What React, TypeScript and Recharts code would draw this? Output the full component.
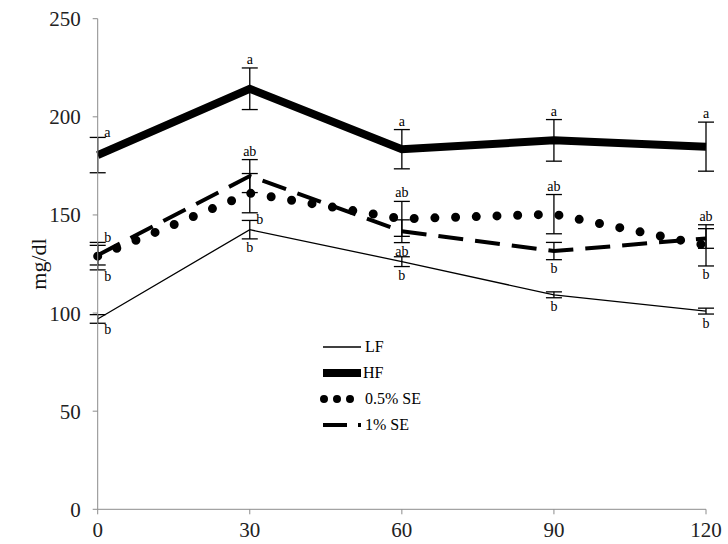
import React from "react";
import { ComposedChart, Line, XAxis, YAxis, ErrorBar, LabelList, Legend } from "recharts";

// minutes after load
const times = [0, 30, 60, 90, 120];

const lfMean = [97, 142.5, 126.2, 109.3, 101];
const lfErr = [2.2, 4.7, 2.5, 1.5, 1.5];
const hfMean = [180.5, 214.3, 183.5, 188, 184.8];
const hfErr = [9, 10.6, 10, 10.6, 12.5];
const se05Mean = [129, 161.1, 148, 150.4, 134.5];
const se05Err = [7, 10, 8.9, 10, 10.5];
const se1Mean = [129.5, 169.8, 141.7, 131.6, 138];
const se1Err = [5, 8.4, 5.8, 4.4, 5];

// significance letters, written at top / bottom end of each error bar
const lfTop = ["", "", "", "", ""];
const lfBottom = ["b", "b", "b", "b", "b"];
const hfTop = ["a", "a", "a", "a", "a"];
const hfBottom = ["", "", "", "", ""];
const se05Top = ["b", "", "ab", "ab", "ab"];
const se05Bottom = ["b", "b", "", "", "b"];
const se1Top = ["", "ab", "", "", ""];
const se1Bottom = ["", "", "ab", "b", ""];

const yTicks = [0, 50, 100, 150, 200, 250];

const series = [
  { key: "lf", name: "LF", mean: lfMean, err: lfErr, top: lfTop, bottom: lfBottom },
  { key: "hf", name: "HF", mean: hfMean, err: hfErr, top: hfTop, bottom: hfBottom },
  { key: "se05", name: "0.5% SE", mean: se05Mean, err: se05Err, top: se05Top, bottom: se05Bottom },
  { key: "se1", name: "1% SE", mean: se1Mean, err: se1Err, top: se1Top, bottom: se1Bottom },
];

const rows = times.map((t, i) => {
  const row: any = { t };
  series.forEach((s) => {
    row[s.key] = s.mean[i];
    row[s.key + "Err"] = s.err[i];
    row[s.key + "Hi"] = s.mean[i] + s.err[i];
    row[s.key + "Lo"] = s.mean[i] - s.err[i];
  });
  return row;
});

const serif = "'Liberation Serif', 'Times New Roman', serif";

const lineStyle: Record<string, any> = {
  lf: { strokeWidth: 1.3 },
  hf: { strokeWidth: 8, strokeLinejoin: "miter" },
  se05: { strokeWidth: 9, strokeDasharray: "0 20.7", strokeLinecap: "round" },
  se1: { strokeWidth: 4, strokeDasharray: "25 12" },
};

// labels pushed to the right of the bar instead of centred on it
const sideLabels = new Set(["lf-b-0", "hf-t-0", "se05-t-0", "se05-b-0", "se05-b-1"]);

const letterLabel = (key: string, letters: string[], end: "t" | "b") => (props: any) => {
  const { x, y, index } = props;
  const txt = letters[index];
  if (!txt) return null;
  const side = sideLabels.has(`${key}-${end}-${index}`);
  let ty = end === "t" ? y - 4 : y + 13.5;
  if (side) ty = end === "t" ? y - 0.5 : y + 11;
  return (
    <text
      x={side ? x + 6.5 : x}
      y={ty}
      textAnchor={side ? "start" : "middle"}
      fontFamily={serif}
      fontSize={14}
      fill="#000"
    >
      {txt}
    </text>
  );
};

const LegendSample = ({ k }: { k: string }) => {
  if (k === "lf") return <line x1={0} y1={6} x2={38} y2={6} stroke="#000" strokeWidth={1.3} />;
  if (k === "hf") return <line x1={0} y1={6} x2={38} y2={6} stroke="#000" strokeWidth={8} />;
  if (k === "se05")
    return <line x1={1} y1={6} x2={38} y2={6} stroke="#000" strokeWidth={8} strokeDasharray="0 13" strokeLinecap="round" />;
  return <line x1={0} y1={6} x2={38} y2={6} stroke="#000" strokeWidth={4} strokeDasharray="24 11" />;
};

const renderLegend = () => (
  <div style={{ fontFamily: serif, fontSize: 16, color: "#000" }}>
    {series.map((s) => (
      <div key={s.key} style={{ display: "flex", alignItems: "center", height: 26 }}>
        <svg width={40} height={12} style={{ overflow: "visible" }}>
          <LegendSample k={s.key} />
        </svg>
        <span style={{ marginLeft: s.key === "hf" ? 0 : 2 }}>{s.name}</span>
      </div>
    ))}
  </div>
);

export default function App() {
  return (
    <div>
      <style>{"body{margin:0}"}</style>
      <ComposedChart
        width={728}
        height={544}
        data={rows}
        margin={{ top: 18.7, right: 22, bottom: 4.7, left: 0 }}
      >
        <XAxis
          dataKey="t"
          type="number"
          domain={[0, 120]}
          ticks={times}
          height={30}
          stroke="#8c8c8c"
          tickSize={5}
          tickMargin={8}
          tick={{ fontFamily: serif, fontSize: 21, fill: "#222" }}
        />
        <YAxis
          domain={[0, 250]}
          ticks={yTicks}
          width={97.7}
          stroke="#8c8c8c"
          tickSize={5}
          tickMargin={12}
          tick={{ fontFamily: serif, fontSize: 21, fill: "#222" }}
          label={{
            value: "mg/dl",
            angle: -90,
            position: "insideLeft",
            offset: 38,
            style: { fontFamily: serif, fontSize: 22, fill: "#111", textAnchor: "middle" },
          }}
        />
        <Legend
          layout="vertical"
          align="center"
          verticalAlign="middle"
          content={renderLegend}
          wrapperStyle={{ left: 323, top: 334, width: 140 }}
        />
        {series.map((s) => (
          <Line
            key={s.key}
            dataKey={s.key}
            name={s.name}
            type="linear"
            stroke="#000"
            dot={false}
            activeDot={false}
            isAnimationActive={false}
            {...lineStyle[s.key]}
          >
            <ErrorBar dataKey={s.key + "Err"} width={8} stroke="#000" strokeWidth={1.3} direction="y" />
          </Line>
        ))}
        {series.map((s) => (
          <Line
            key={s.key + "Hi"}
            dataKey={s.key + "Hi"}
            stroke="none"
            dot={false}
            activeDot={false}
            legendType="none"
            isAnimationActive={false}
          >
            <LabelList dataKey={s.key + "Hi"} content={letterLabel(s.key, s.top, "t")} />
          </Line>
        ))}
        {series.map((s) => (
          <Line
            key={s.key + "Lo"}
            dataKey={s.key + "Lo"}
            stroke="none"
            dot={false}
            activeDot={false}
            legendType="none"
            isAnimationActive={false}
          >
            <LabelList dataKey={s.key + "Lo"} content={letterLabel(s.key, s.bottom, "b")} />
          </Line>
        ))}
      </ComposedChart>
    </div>
  );
}
